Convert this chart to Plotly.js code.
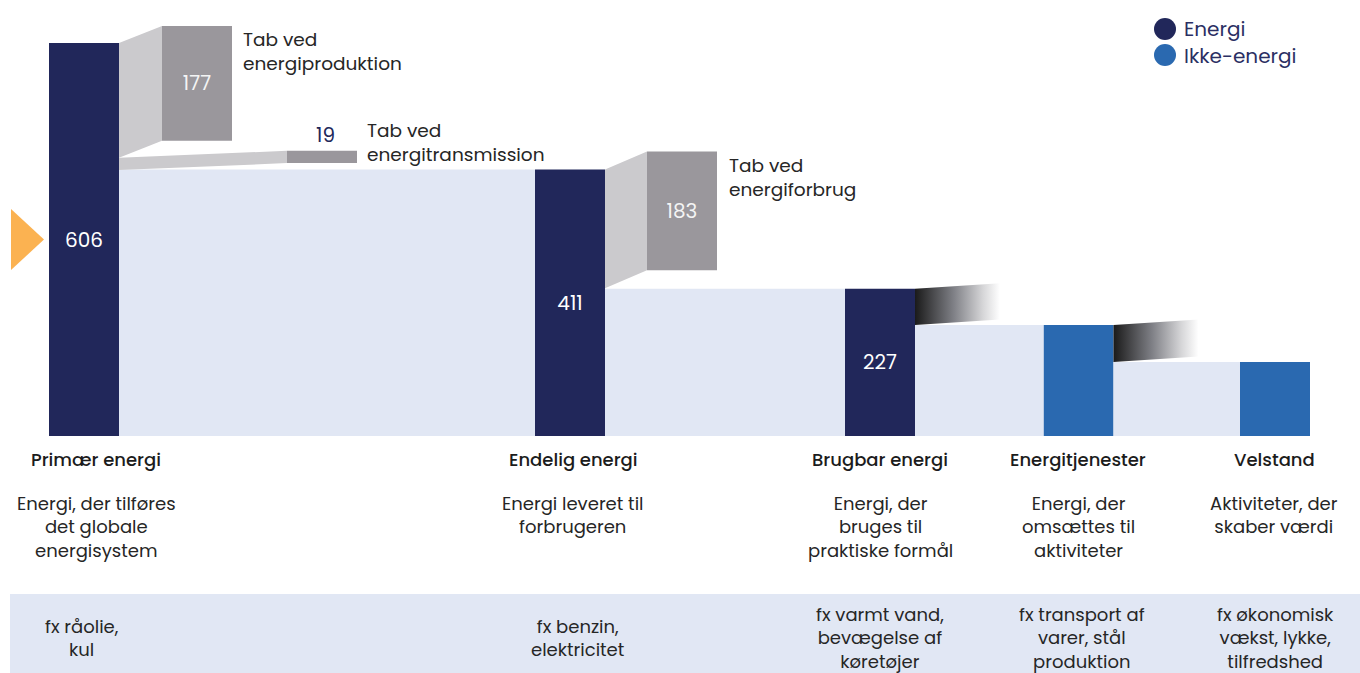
<!DOCTYPE html>
<html><head><meta charset="utf-8">
<script src="https://cdn.plot.ly/plotly-3.0.1.min.js"></script>
<style>html,body{margin:0;padding:0;background:#fff;overflow:hidden}#chart{width:1360px;height:673px}</style>
</head><body><div id="chart"></div>
<script>
// ---------- data ----------
const stages = ['Primær energi', 'Endelig energi', 'Brugbar energi', 'Energitjenester', 'Velstand'];
const stageValues = [606, 411, 227, 171, 114];
const stageTypes = ['Energi', 'Energi', 'Energi', 'Ikke-energi', 'Ikke-energi'];
const stageValueLabels = ['606', '411', '227', '', ''];
const descriptions = [
  'Energi, der tilføres<br>det globale<br>energisystem',
  'Energi leveret til<br>forbrugeren',
  'Energi, der<br>bruges til<br>praktiske formål',
  'Energi, der<br>omsættes til<br>aktiviteter',
  'Aktiviteter, der<br>skaber værdi'
];
const examples = [
  'fx råolie,<br>kul',
  'fx benzin,<br>elektricitet',
  'fx varmt vand,<br>bevægelse af<br>køretøjer',
  'fx transport af<br>varer, stål<br>produktion',
  'fx økonomisk<br>vækst, lykke,<br>tilfredshed'
];
const lossNames = ['Tab ved<br>energiproduktion', 'Tab ved<br>energitransmission', 'Tab ved<br>energiforbrug'];
const lossValues = [177, 19, 183];
const lossSources = [0, 0, 1];
const legendNames = ['Energi', 'Ikke-energi'];

// ---------- layout / style constants ----------
const W = 1360, H = 673, ZERO_PX = 436, UNIT_PX = 0.6485;
const py = px => (ZERO_PX - px) / UNIT_PX;   // pixel row -> axis value
const u = px => px / UNIT_PX;                // pixel length -> axis units
const FONT = 'Poppins, Inter, "Open Sans", sans-serif';
const COLORS = { 'Energi': '#21275a', 'Ikke-energi': '#2a69b0' };
const FLOW = '#e1e7f4', LOSS_FLOW = '#cbcacd', LOSS_BOX_C = '#9a979c', ORANGE = '#fbb251';
const TXT = '#262626';
const BAR_CX = [84, 570, 880, 1078.5, 1275];
const BAR_W = 70;
const LOSS_BOX = [[162, 232], [287, 357], [647, 717]];
const LOSS_LIFT_PX = [17, 7, 18];
const LOSS_LABEL = [[241, 51], [365, 142.5], [727, 177]];
const FADE_LEN = 85, FADE_RISE_PX = 5.5;
const NAME_X = [96, 573, 880, 1078, 1274];
const DESC_X = [96, 573, 880, 1078, 1274];
const EX_X = [82, 577, 880, 1082, 1275];

const traces = [];
const noHover = { hoverinfo: 'skip', showlegend: false };

// light flows between stages
for (let i = 0; i < stages.length - 1; i++) {
  const x0 = BAR_CX[i] + BAR_W / 2, x1 = BAR_CX[i + 1] - BAR_W / 2, v = stageValues[i + 1];
  traces.push(Object.assign({ type: 'scatter', mode: 'lines', x: [x0, x1, x1, x0, x0], y: [0, 0, v, v, 0],
    fill: 'toself', fillcolor: FLOW, line: { width: 0, color: FLOW } }, noHover));
}

// labelled losses: trapezoids + boxes
const running = {};
const boxX = [], boxBase = [], boxW = [], boxText = [];
const extraAnn = [];
lossValues.forEach((v, k) => {
  const s = lossSources[k];
  const top = (running[s] !== undefined) ? running[s] : stageValues[s];
  const bottom = top - v;
  running[s] = bottom;
  const [bx0, bx1] = LOSS_BOX[k];
  const lift = u(LOSS_LIFT_PX[k]);
  const xr = BAR_CX[s] + BAR_W / 2;
  traces.push(Object.assign({ type: 'scatter', mode: 'lines',
    x: [xr, bx0, bx0, xr, xr], y: [top, top + lift, bottom + lift, bottom, top],
    fill: 'toself', fillcolor: LOSS_FLOW, line: { width: 0, color: LOSS_FLOW } }, noHover));
  boxX.push((bx0 + bx1) / 2); boxBase.push(bottom + lift); boxW.push(bx1 - bx0);
  const tall = v * UNIT_PX > 30;
  boxText.push(tall ? String(v) : '');
  if (!tall) {
    extraAnn.push({ x: (bx0 + bx1) / 2 + 3, y: bottom + lift + v, xref: 'x', yref: 'y', yanchor: 'bottom',
      text: String(v), showarrow: false, font: { family: FONT, size: 20, color: COLORS['Energi'] } });
  }
});
traces.push(Object.assign({ type: 'bar', x: boxX, y: lossValues, base: boxBase, width: boxW,
  marker: { color: LOSS_BOX_C, line: { width: 0 } }, text: boxText, textposition: 'inside',
  insidetextanchor: 'middle', textangle: 0, textfont: { family: FONT, size: 20, color: '#f4f4f4' } }, noHover));

// unlabelled losses fading out
for (let i = 2; i < stages.length - 1; i++) {
  const top = stageValues[i], bot = stageValues[i + 1];
  const xr = BAR_CX[i] + BAR_W / 2, rise = u(FADE_RISE_PX);
  traces.push(Object.assign({ type: 'scatter', mode: 'lines',
    x: [xr, xr + FADE_LEN, xr + FADE_LEN, xr, xr], y: [top, top + rise, bot + rise, bot, top],
    fill: 'toself', line: { width: 0, color: 'rgba(0,0,0,0)' },
    fillgradient: { type: 'horizontal',
      colorscale: [[0, '#1a1a1a'], [0.45, '#7e7f85'], [0.8, '#d6d6d8'], [1, '#ffffff']] } }, noHover));
}

// orange pointer
const mid = stageValues[0] / 2, hh = u(30.5);
traces.push(Object.assign({ type: 'scatter', mode: 'lines', x: [11, 44, 11, 11], y: [mid + hh, mid, mid - hh, mid + hh],
  fill: 'toself', fillcolor: ORANGE, line: { width: 0, color: ORANGE } }, noHover));

// stage bars
traces.push(Object.assign({ type: 'bar', x: BAR_CX, y: stageValues, width: BAR_W,
  marker: { color: stageTypes.map(t => COLORS[t]), line: { width: 0 } },
  text: stageValueLabels, textposition: 'inside', insidetextanchor: 'middle', textangle: 0,
  textfont: { family: FONT, size: 20, color: '#ffffff' } }, noHover));

// legend markers
traces.push(Object.assign({ type: 'scatter', mode: 'markers', x: [1165, 1165], y: [py(29), py(55)],
  marker: { size: 22, color: legendNames.map(n => COLORS[n]) } }, noHover));

// ---------- annotations ----------
const ann = [];
stages.forEach((s, i) => {
  ann.push({ x: NAME_X[i], y: py(459), xref: 'x', yref: 'y', text: s, showarrow: false, yanchor: 'middle',
    font: { family: FONT, size: 18, color: '#1c1c1c', weight: 500 } });
  ann.push({ x: DESC_X[i], y: py(489), xref: 'x', yref: 'y', text: descriptions[i], showarrow: false, yanchor: 'top',
    align: 'center', font: { family: FONT, size: 18, color: TXT } });
  ann.push({ x: EX_X[i], y: py(638), xref: 'x', yref: 'y', text: examples[i], showarrow: false, yanchor: 'middle',
    align: 'center', font: { family: FONT, size: 18, color: TXT } });
});
lossNames.forEach((n, k) => {
  ann.push({ x: LOSS_LABEL[k][0], y: py(LOSS_LABEL[k][1]), xref: 'x', yref: 'y', text: n, showarrow: false,
    xanchor: 'left', yanchor: 'middle', align: 'left', font: { family: FONT, size: 18.5, color: TXT } });
});
legendNames.forEach((n, i) => {
  ann.push({ x: 1183, y: py(29 + 26.5 * i), xref: 'x', yref: 'y', text: n, showarrow: false, borderpad: 0,
    xanchor: 'left', yanchor: 'middle', font: { family: FONT, size: 20, color: '#2b2f63' } });
});

const layout = {
  width: W, height: H, margin: { l: 0, r: 0, t: 0, b: 0 },
  paper_bgcolor: '#ffffff', plot_bgcolor: '#ffffff', barmode: 'overlay', showlegend: false,
  xaxis: { range: [0, W], visible: false, fixedrange: true },
  yaxis: { range: [py(H), py(0)], visible: false, fixedrange: true },
  shapes: [{ type: 'rect', xref: 'x', yref: 'y', x0: 10, x1: W, y0: py(594), y1: py(H + 5),
    fillcolor: FLOW, line: { width: 0 }, layer: 'below' }],
  annotations: ann.concat(extraAnn),
  font: { family: FONT }
};
Plotly.newPlot('chart', traces, layout, { displayModeBar: false, staticPlot: true });
</script></body></html>
